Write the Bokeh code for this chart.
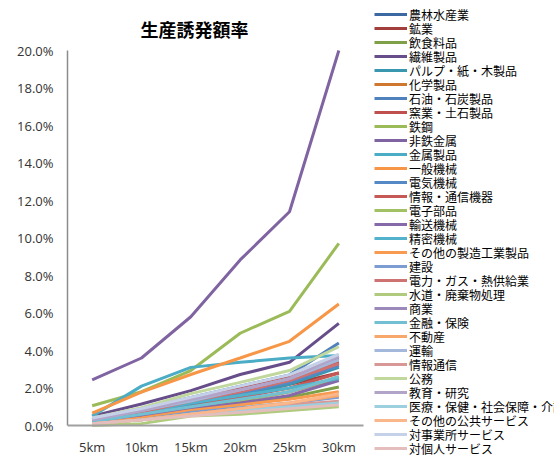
from bokeh.plotting import figure
from bokeh.models import (ColumnDataSource, Legend, LegendItem, PrintfTickFormatter,
                          FixedTicker, Range1d, Label)
from bokeh.core.properties import value
from bokeh.embed import file_html
from bokeh.resources import INLINE

distances = ["5km", "10km", "15km", "20km", "25km", "30km"]

sectors = [
    "農林水産業", "鉱業", "飲食料品", "繊維製品", "パルプ・紙・木製品", "化学製品",
    "石油・石炭製品", "窯業・土石製品", "鉄鋼", "非鉄金属", "金属製品", "一般機械",
    "電気機械", "情報・通信機器", "電子部品", "輸送機械", "精密機械", "その他の製造工業製品",
    "建設", "電力・ガス・熱供給業", "水道・廃棄物処理", "商業", "金融・保険", "不動産",
    "運輸", "情報通信", "公務", "教育・研究", "医療・保健・社会保障・介護", "その他の公共サービス",
    "対事業所サービス", "対個人サービス",
]

# production-inducement rate (%) for each sector at each distance
rates = [
    [0.30, 0.80, 1.30, 1.80, 2.40, 3.30],
    [0.20, 0.60, 1.10, 1.60, 2.20, 2.80],
    [0.10, 0.40, 0.80, 1.10, 1.50, 2.05],
    [0.50, 1.15, 1.86, 2.72, 3.37, 5.45],
    [0.20, 0.60, 1.10, 1.60, 2.20, 3.10],
    [0.20, 0.50, 0.90, 1.30, 1.80, 2.50],
    [0.30, 0.90, 1.50, 2.10, 2.70, 4.40],
    [0.30, 0.80, 1.40, 2.00, 2.60, 3.40],
    [1.05, 1.80, 2.93, 4.92, 6.09, 9.71],
    [2.43, 3.60, 5.80, 8.83, 11.40, 20.00],
    [0.50, 2.10, 3.10, 3.37, 3.60, 3.73],
    [0.66, 1.78, 2.72, 3.60, 4.49, 6.48],
    [0.20, 0.60, 1.20, 1.70, 2.30, 3.20],
    [0.20, 0.50, 1.00, 1.50, 2.00, 2.80],
    [0.10, 0.40, 0.90, 1.30, 1.80, 2.60],
    [0.20, 0.50, 0.90, 1.20, 1.60, 2.40],
    [0.30, 0.70, 1.20, 1.60, 2.00, 2.50],
    [0.10, 0.40, 0.80, 1.10, 1.40, 1.80],
    [0.10, 0.30, 0.70, 0.95, 1.20, 1.50],
    [0.30, 0.70, 1.30, 1.80, 2.40, 3.30],
    [0.00, 0.10, 0.50, 0.60, 0.80, 1.00],
    [0.30, 0.80, 1.40, 1.90, 2.50, 3.60],
    [0.20, 0.60, 1.00, 1.40, 1.80, 2.60],
    [0.10, 0.30, 0.60, 0.90, 1.20, 1.60],
    [0.30, 0.80, 1.30, 1.90, 2.50, 3.50],
    [0.10, 0.30, 0.60, 0.90, 1.10, 1.30],
    [0.40, 0.95, 1.70, 2.30, 2.93, 4.20],
    [0.30, 0.80, 1.40, 1.90, 2.50, 3.70],
    [0.10, 0.30, 0.60, 0.80, 1.00, 1.20],
    [0.10, 0.30, 0.60, 0.90, 1.20, 1.70],
    [0.40, 0.90, 1.50, 2.10, 2.70, 3.80],
    [0.10, 0.30, 0.50, 0.70, 0.90, 1.10],
]

colors = [
    "#3D69A3", "#A23E3B", "#80A047", "#674E8B", "#3A97B0", "#D0772F",
    "#4F81BD", "#C0504D", "#9BBB59", "#8064A2", "#4BACC6", "#F79646",
    "#5589C6", "#C65855", "#A2C164", "#8669A9", "#52B2CC", "#F89B50",
    "#7D9DD2", "#CE7371", "#B0CB7E", "#9C89BC", "#72BED2", "#F9A86C",
    "#A4B8DB", "#D89896", "#C0D79E", "#B2A4C9", "#9CD0DE", "#FAB78C",
    "#C5D1E8", "#E4BEBD",
]

y_ticks = [0, 2, 4, 6, 8, 10, 12, 14, 16, 18, 20]

JP_FONT = "'Liberation Sans', 'Noto Sans CJK JP'"

# geometry (px): the frame fills the canvas right of the y axis, so the
# legend beside the chart is inside it; axes are bounded to the chart area
W, H = 554, 455
LEFT = 67
FRAME_W = W - LEFT
CHART_W = 296           # width used by the six categories
CHART_TOP, CHART_BOT = 50, 425
n = len(distances)
px_per_cat = CHART_W / n
px_per_pct = (CHART_BOT - CHART_TOP) / 20.0

x_pos = [i + 0.5 for i in range(n)]
x_range = Range1d(0, FRAME_W / px_per_cat)
y_range = Range1d(-(H - CHART_BOT) / px_per_pct, 20 + CHART_TOP / px_per_pct)

p = figure(
    width=W, height=H, x_range=x_range, y_range=y_range,
    output_backend="svg", toolbar_location=None,
    min_border=0, min_border_left=LEFT,
)
p.xgrid.visible = False
p.ygrid.visible = False
p.outline_line_color = None

for ax in (p.xaxis[0], p.yaxis[0]):
    ax.axis_line_color = "#8C8C8C"
    ax.axis_line_width = 1.5
    ax.major_tick_line_color = None
    ax.minor_tick_line_color = None
    ax.major_tick_out = 0
    ax.major_tick_in = 0
    ax.major_label_text_font = "Open Sans"
    ax.major_label_text_font_size = "13px"
    ax.major_label_text_color = "#333333"

p.xaxis.fixed_location = 0
p.xaxis.bounds = (0, n)
p.xaxis.axis_line_width = 2
p.xaxis.axis_line_color = "#A0A0A0"
p.xaxis.ticker = FixedTicker(ticks=x_pos)
p.xaxis.major_label_overrides = {x: d for x, d in zip(x_pos, distances)}
p.xaxis.major_label_standoff = 12

p.yaxis.bounds = (0, 20)
p.yaxis.ticker = FixedTicker(ticks=y_ticks)
p.yaxis.formatter = PrintfTickFormatter(format="%.1f%%")
p.yaxis.major_label_standoff = 14

p.add_layout(Label(
    x=140 - LEFT, y=H - 30, x_units="screen", y_units="screen",
    text="生産誘発額率", text_font=JP_FONT, text_font_size="18px",
    text_font_style="bold", text_color="#000000",
    text_align="left", text_baseline="middle",
))

ROW = 14      # legend row pitch (px)
ITEM_H = 17   # height Bokeh gives one legend row at this font size
FIRST = 14    # centre of first legend row from the top (px)
LEG_X = 374 - LEFT

for i, (name, vals, col) in enumerate(zip(sectors, rates, colors)):
    src = ColumnDataSource(data=dict(x=x_pos, y=vals))
    r = p.line("x", "y", source=src, line_color=col, line_width=3)
    top = FIRST + ROW * i - ITEM_H / 2
    leg = Legend(
        items=[LegendItem(label=name, renderers=[r])],
        location=(LEG_X, H - ITEM_H - top),
        glyph_width=33, glyph_height=14, label_height=14,
        spacing=0, padding=0, margin=0, label_standoff=2,
        label_text_font=JP_FONT, label_text_font_size="12px",
        label_text_color="#000000",
        border_line_color=None, background_fill_alpha=0,
    )
    p.add_layout(leg, "center")

open("out.html", "w").write(file_html(p, INLINE))
